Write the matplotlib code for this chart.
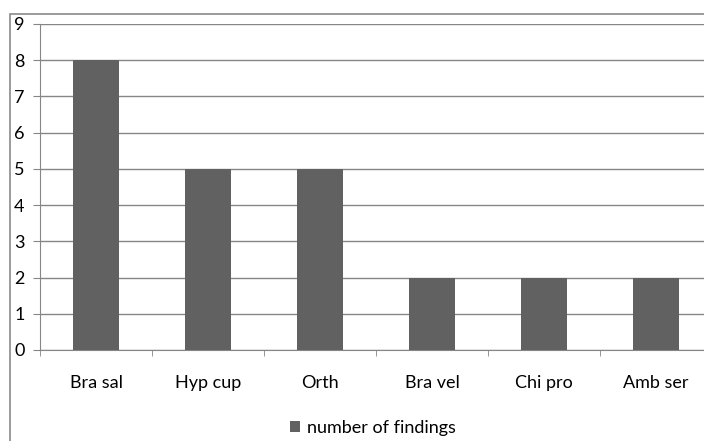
import numpy as np
import matplotlib.pyplot as plt
from matplotlib.patches import Rectangle

# data
species = ['Bra sal', 'Hyp cup', 'Orth', 'Bra vel', 'Chi pro', 'Amb ser']
findings = [8, 5, 5, 2, 2, 2]
series_name = 'number of findings'

plt.rcParams['font.family'] = ['Lato', 'DejaVu Sans']

W, H = 704, 441
fig = plt.figure(figsize=(W / 100, H / 100), dpi=100)

# outer chart frame (cropped at right and bottom)
fig.patches.append(Rectangle((10 / W, -0.1), 1.2, (H - 14) / H + 0.1,
                             transform=fig.transFigure, fill=False,
                             edgecolor='#8a8a8a', lw=1.2))

ax = fig.add_axes([40 / W, (H - 350) / H, 672 / W, 326 / H])
x = np.arange(len(species))
ax.bar(x, findings, width=0.41, color='#616161', zorder=3, label=series_name)

ax.set_xlim(-0.5, len(species) - 0.5)
ax.set_ylim(0, 9)
ax.set_yticks(range(10))
ax.yaxis.grid(True, color='#868686', lw=1, zorder=0)

for s in ['top', 'right']:
    ax.spines[s].set_visible(False)
for s in ['left', 'bottom']:
    ax.spines[s].set_color('#868686')

ax.tick_params(axis='y', length=5, color='#868686', labelsize=13, pad=6)
ax.set_xticks(x)
ax.set_xticklabels(species)
ax.tick_params(axis='x', which='major', length=0, labelsize=13, pad=18)
ax.set_xticks(np.arange(len(species) + 1) - 0.5, minor=True)
ax.tick_params(axis='x', which='minor', length=4, color='#868686')

fig.legend(loc='center', bbox_to_anchor=(373 / W, (H - 428) / H),
           frameon=False, fontsize=13, handlelength=0.55, handleheight=0.55,
           handletextpad=0.4)

fig.savefig('out.png', dpi=100)
